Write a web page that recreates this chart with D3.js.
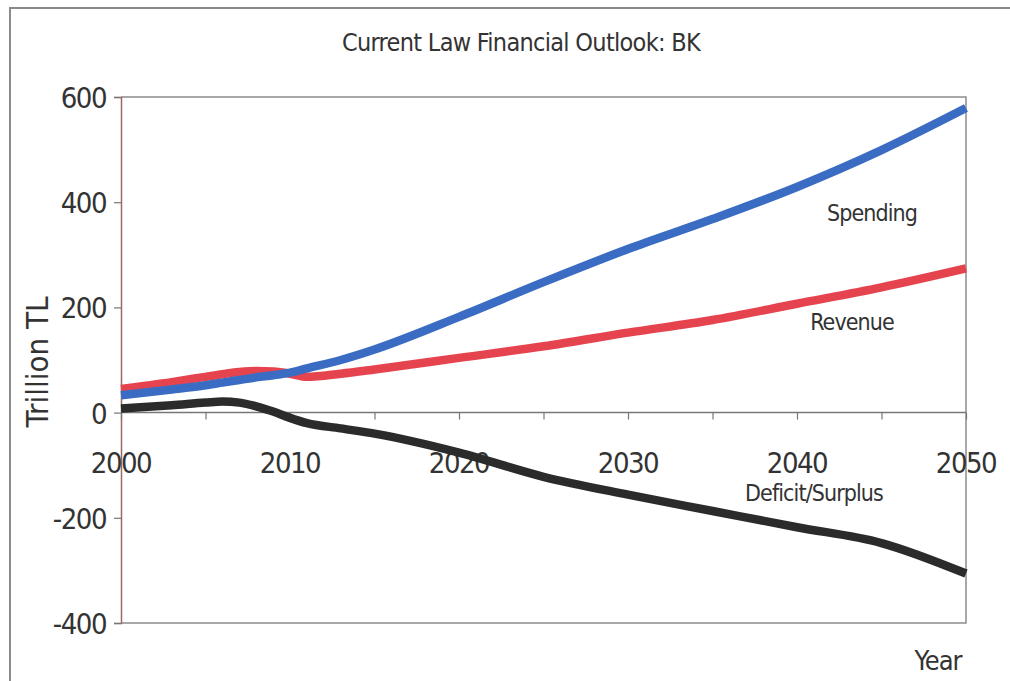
<!DOCTYPE html>
<html>
<head>
<meta charset="utf-8">
<script src="https://cdn.jsdelivr.net/npm/d3@7/dist/d3.min.js"></script>
<style>
  html, body { margin: 0; padding: 0; background: #fff; }
  svg { display: block; }
  text { font-family: "DejaVu Sans Condensed", "DejaVu Sans", sans-serif; fill: #333; }
</style>
</head>
<body>
<svg id="chart" width="1010" height="681"></svg>
<script>
// Annual outlook, trillion TL (five-year points plus the turning years)
const years    = [2000, 2003, 2005, 2006, 2007, 2008, 2009, 2010, 2011, 2013, 2015, 2020, 2025, 2030, 2035, 2040, 2045, 2050];
const spending = [33, 44, 52, 57, 62, 67, 71, 76, 84, 100, 120, 182, 248, 311, 368, 429, 499, 579];
const revenue  = [45, 58, 68, 73, 77, 79, 78, 74, 68, 74, 82, 104, 126, 152, 176, 207, 238, 274];
const deficit  = [8, 14, 19, 21, 19, 12, 2, -10, -20, -30, -40, -76, -122, -156, -187, -218, -248, -306];

const yTicks = [-400, -200, 0, 200, 400, 600];
const xLabels = [2000, 2010, 2020, 2030, 2040, 2050];
const xMinorTicks = d3.range(2000, 2051, 5);

const seriesNames = ["Spending", "Revenue", "Deficit/Surplus"];
const seriesColors = ["#3b6cc4", "#e5444f", "#2b2b2b"];

const svg = d3.select("#chart");
const plotLeft = 121, plotRight = 966, plotTop = 97, plotBottom = 623;

const x = d3.scaleLinear().domain([2000, 2050]).range([plotLeft, plotRight]);
const y = d3.scaleLinear().domain([-400, 600]).range([plotBottom, plotTop]);

// outer frame
svg.append("rect")
  .attr("x", 10).attr("y", 8).attr("width", 1100).attr("height", 800)
  .attr("fill", "none").attr("stroke", "#8a8a8a").attr("stroke-width", 2);

// title
svg.append("text")
  .attr("x", 521).attr("y", 51)
  .attr("text-anchor", "middle")
  .attr("font-size", 25)
  .attr("letter-spacing", -0.7)
  .text("Current Law Financial Outlook: BK");

// plot frame (top, right, bottom)
svg.append("path")
  .attr("d", `M${plotLeft},${plotTop}H${plotRight}V${plotBottom}H${plotLeft}`)
  .attr("fill", "none").attr("stroke", "#8c8c8c").attr("stroke-width", 1.5);

// y axis
const yAxis = d3.axisLeft(y).tickValues(yTicks).tickSize(7).tickPadding(8).tickFormat(d => String(d));
const gy = svg.append("g").attr("transform", `translate(${plotLeft},0)`).call(yAxis);
gy.select(".domain").attr("stroke", "#9a6a62").attr("stroke-width", 1.5);
gy.selectAll(".tick line").attr("stroke", "#777").attr("stroke-width", 1.2);
gy.selectAll(".tick text")
  .attr("font-size", 29).attr("fill", "#333").attr("letter-spacing", -1.5)
  .attr("font-family", '"DejaVu Sans Condensed", "DejaVu Sans", sans-serif')
  .attr("dy", "0.36em");

// x axis along zero line
const xAxis = d3.axisBottom(x).tickValues(xMinorTicks).tickSize(7).tickFormat("");
const gx = svg.append("g").attr("transform", `translate(0,${y(0)})`).call(xAxis);
gx.select(".domain").attr("stroke", "#777").attr("stroke-width", 1.5).attr("d", `M${plotLeft},0H${plotRight}`);
gx.selectAll(".tick line").attr("stroke", "#777").attr("stroke-width", 1.2);

svg.append("g").selectAll("text").data(xLabels).join("text")
  .attr("x", d => x(d)).attr("y", y(0) + 60)
  .attr("text-anchor", "middle")
  .attr("font-size", 29).attr("letter-spacing", -1.5)
  .text(d => d);

// axis titles
svg.append("text")
  .attr("transform", "translate(48,362) rotate(-90)")
  .attr("text-anchor", "middle")
  .attr("font-size", 31)
  .attr("letter-spacing", 0)
  .text("Trillion TL");

svg.append("text")
  .attr("x", 938).attr("y", 670)
  .attr("text-anchor", "middle")
  .attr("font-size", 27).attr("letter-spacing", -1)
  .text("Year");

// series lines
const line = d3.line().x(d => x(d[0])).y(d => y(d[1])).curve(d3.curveMonotoneX);
const series = [spending, revenue, deficit];
// revenue underneath, then spending, deficit on top
[1, 0, 2].forEach(i => {
  svg.append("path")
    .datum(years.map((yr, k) => [yr, series[i][k]]))
    .attr("d", line)
    .attr("fill", "none")
    .attr("stroke", seriesColors[i])
    .attr("stroke-width", 8.5)
    .attr("stroke-linejoin", "round")
    .attr("stroke-linecap", "butt");
});

// series labels
const labelPos = [[872, 221], [852, 330], [814, 501]];
svg.append("g").selectAll("text").data(seriesNames).join("text")
  .attr("x", (d, i) => labelPos[i][0]).attr("y", (d, i) => labelPos[i][1])
  .attr("text-anchor", "middle")
  .attr("font-size", 23).attr("letter-spacing", -0.9)
  .text(d => d);
</script>
</body>
</html>
